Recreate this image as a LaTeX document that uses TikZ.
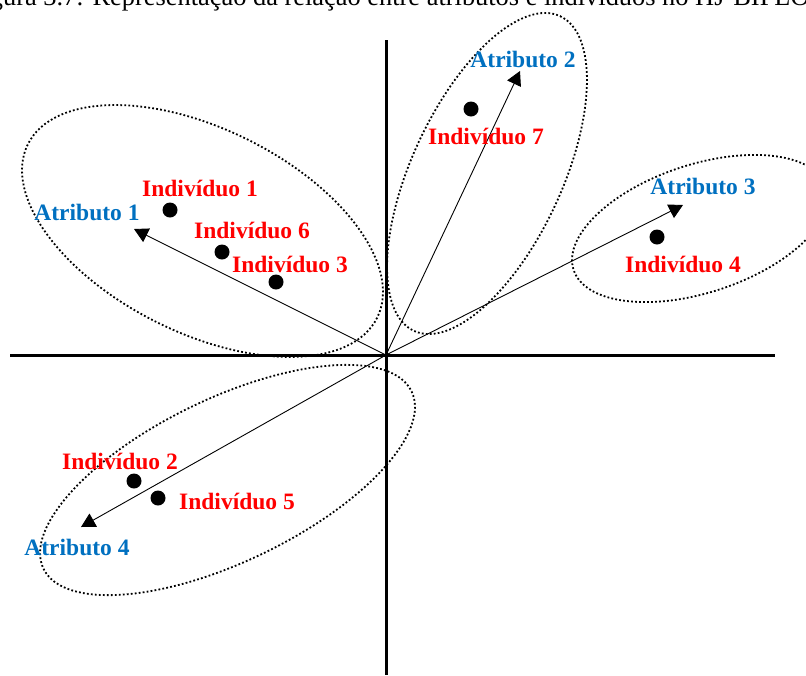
\documentclass[tikz,border=0pt]{standalone}
\usepackage{fontspec}
\setmainfont{Liberation Serif}
\usetikzlibrary{arrows.meta}
\definecolor{attrblue}{RGB}{0,112,192}
\definecolor{indred}{RGB}{255,0,0}
\begin{document}
\begin{tikzpicture}[x=0.5pt,y=-0.5pt,
  axis/.style={line width=1.5pt},
  vec/.style={line width=0.45pt,-{Triangle[length=7pt,width=7.5pt]}},
  group/.style={line width=0.9pt,dash pattern=on 0.9pt off 1.1pt},
  dot/.style={circle,fill=black,inner sep=0pt,minimum size=7.5pt},
  lab/.style={font=\fontsize{11.75}{14}\bfseries\selectfont,inner sep=0pt},
  attr/.style={lab,text=attrblue},
  ind/.style={lab,text=indred}]
\useasboundingbox (0,0) rectangle (806,675);
\clip (0,0) rectangle (806,675);

% caption line
\node[anchor=base west,inner sep=0pt,font=\fontsize{13.2}{15}\selectfont] (cap) at (-32.5,5.5)
  {Figura 3.7: Representação da relação entre atributos e indivíduos no HJ-BIPLOT};

% groups
\draw[group,rotate around={-26.4:(202.5,231)}] (202.5,231) ellipse [x radius=195,y radius=102];
\draw[group,rotate around={65.1:(487,173.5)}] (487,173.5) ellipse [x radius=173.5,y radius=75.2];
\draw[group,rotate around={18.15:(700,228.5)}] (700,228.5) ellipse [x radius=133,y radius=64];
\draw[group,rotate around={25.7:(227.5,480)}] (227.5,480) ellipse [x radius=204.3,y radius=81.6];

% axes
\coordinate (ytop) at (386,40);
\coordinate (ybot) at (386,675);
\coordinate (xl) at (10,355);
\coordinate (xr) at (775,355);
\draw[axis] (ytop) -- (ybot);
\draw[axis] (xl) -- (xr);

% attribute vectors
\coordinate (O) at (386,355);
\coordinate (t1) at (134,229);
\coordinate (t2) at (520,71);
\coordinate (t3) at (683,205);
\coordinate (t4) at (81,527);
\draw[vec] (O) -- (t1);
\draw[vec] (O) -- (t2);
\draw[vec] (O) -- (t3);
\draw[vec] (O) -- (t4);

% individuals
\node[dot] (i1) at (170,210) {};
\node[dot] (i2) at (134,481) {};
\node[dot] (i3) at (276,282) {};
\node[dot] (i4) at (657,237) {};
\node[dot] (i5) at (158,498) {};
\node[dot] (i6) at (222,252) {};
\node[dot] (i7) at (471,109) {};

% labels
\node[attr] (a1) at (87,212) {Atributo 1};
\node[attr] (a2) at (523,59) {Atributo 2};
\node[attr] (a3) at (703,186) {Atributo 3};
\node[attr] (a4) at (77,547) {Atributo 4};
\node[ind] (n1) at (200,188) {Indivíduo 1};
\node[ind] (n2) at (120,461) {Indivíduo 2};
\node[ind] (n3) at (290,264) {Indivíduo 3};
\node[ind] (n4) at (683,264) {Indivíduo 4};
\node[ind] (n5) at (237,501) {Indivíduo 5};
\node[ind] (n6) at (252,230) {Indivíduo 6};
\node[ind] (n7) at (486,136) {Indivíduo 7};
\end{tikzpicture}
\end{document}
